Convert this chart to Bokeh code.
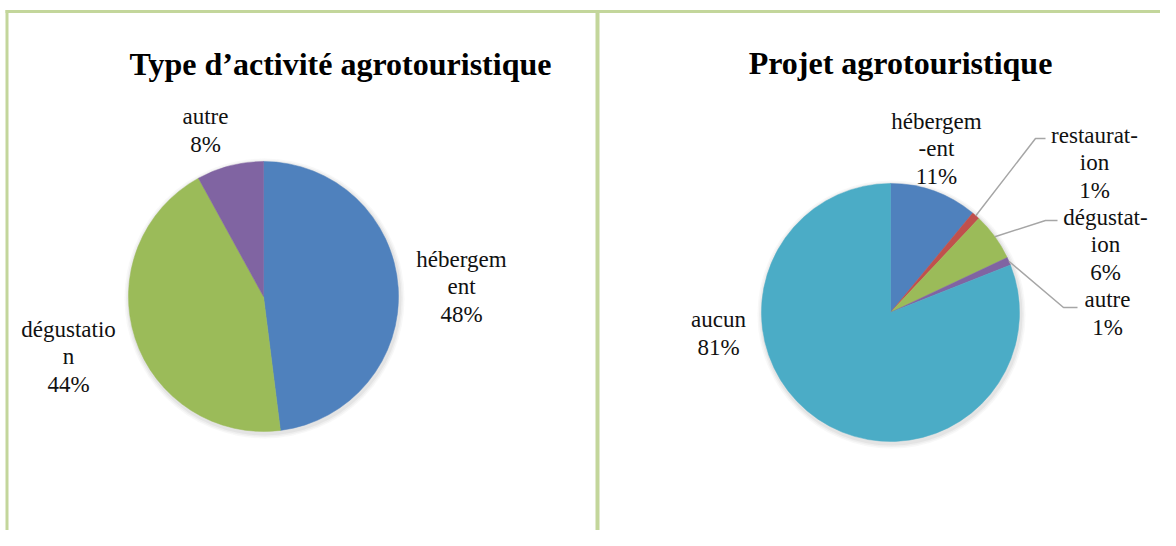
import numpy as np
from bokeh.plotting import figure
from bokeh.models import Range1d
from bokeh.core.properties import value
from bokeh.embed import file_html
from bokeh.resources import INLINE

# ---------------- data ----------------
left_title = "Type d’activité agrotouristique"
left_categories = ["hébergement", "dégustation", "autre"]
left_labels = ["hébergem\nent", "dégustatio\nn", "autre"]
left_values = [48, 44, 8]
left_colors = ["#4F81BD", "#9BBB59", "#8064A2"]

right_title = "Projet agrotouristique"
right_categories = ["hébergement", "restauration", "dégustation", "autre", "aucun"]
right_labels = ["hébergem\n-ent", "restaurat-\nion", "dégustat-\nion", "autre", "aucun"]
right_values = [11, 1, 6, 1, 81]
right_colors = ["#4F81BD", "#C0504D", "#9BBB59", "#8064A2", "#4BACC6"]

# ---------------- layout (reference pixel space, y measured downward) ----------------
W, H = 1160, 530
def Y(y):
    return H - y

p = figure(width=W, height=H, x_range=Range1d(0, W), y_range=Range1d(0, H),
           output_backend="svg", toolbar_location=None, x_axis_type=None, y_axis_type=None,
           min_border=0)
p.grid.visible = False
p.outline_line_color = None
p.background_fill_color = "white"
p.border_fill_color = "white"

BORDER = "#C3D69B"
# panel borders
p.segment(x0=[5, 6.5, 597], y0=[Y(11), Y(9.5), Y(9.5)], x1=[W, 6.5, 597], y1=[Y(11), Y(H), Y(H)],
          line_color=BORDER, line_width=[3, 3, 4])

SERIF = value("Liberation Serif")


def draw_pie(cx, cy, r, values, colors):
    vals = np.asarray(values, dtype=float)
    cum = np.concatenate([[0.0], np.cumsum(vals)]) / vals.sum()
    start = np.pi / 2 - 2 * np.pi * cum[1:]
    end = np.pi / 2 - 2 * np.pi * cum[:-1]
    # soft shadow
    for k, a in zip([5, 3.5, 2], [0.05, 0.07, 0.09]):
        p.circle(x=[cx + 1], y=[Y(cy) - 2], radius=r + k, fill_color="#7f7f7f", fill_alpha=a,
                 line_color=None)
    p.wedge(x=cx, y=Y(cy), radius=r, start_angle=start, end_angle=end, direction="anticlock",
            fill_color=colors, line_color=colors, line_width=0.5)
    mids = (cum[1:] + cum[:-1]) / 2 * 2 * np.pi  # clockwise from top
    return mids


def draw_labels(labels, values, xs, ys):
    texts = [f"{l}\n{v}%" for l, v in zip(labels, values)]
    p.text(x=xs, y=[Y(y) for y in ys], text=texts, text_font=SERIF, text_font_size="23px",
           text_align="center", text_baseline="middle", text_line_height=1.1, text_color="#111111")


# ---- left pie ----
lcx, lcy, lr = 263, 296, 135
draw_pie(lcx, lcy, lr, left_values, left_colors)
draw_labels(left_labels, left_values, [461, 68, 205], [286, 356, 130])
p.text(x=[340], y=[Y(63)], text=[left_title], text_font=SERIF, text_font_size="32px",
       text_font_style="bold", text_align="center", text_baseline="alphabetic", text_color="#000000")

# ---- right pie ----
rcx, rcy, rr = 890, 312, 129
mids = draw_pie(rcx, rcy, rr, right_values, right_colors)
draw_labels(right_labels, right_values, [936, 1094, 1105, 1107, 718], [148, 162, 244, 313, 333])
p.text(x=[900], y=[Y(62)], text=[right_title], text_font=SERIF, text_font_size="32px",
       text_font_style="bold", text_align="center", text_baseline="alphabetic", text_color="#000000")

# leader lines for the small slices (restauration, dégustation, autre)
lead_idx = [1, 2, 3]
knees = [(1035, 138), (1045, 220), (1063, 307)]
ends = [1045, 1057, 1077]
xs, ys = [], []
for i, (kx, ky), ex in zip(lead_idx, knees, ends):
    sx = rcx + rr * np.sin(mids[i])
    sy = rcy - rr * np.cos(mids[i])
    xs.append([sx, kx, ex])
    ys.append([Y(sy), Y(ky), Y(ky)])
p.multi_line(xs=xs, ys=ys, line_color="#A6A6A6", line_width=1.5)

open("out.html", "w").write(file_html(p, INLINE))
